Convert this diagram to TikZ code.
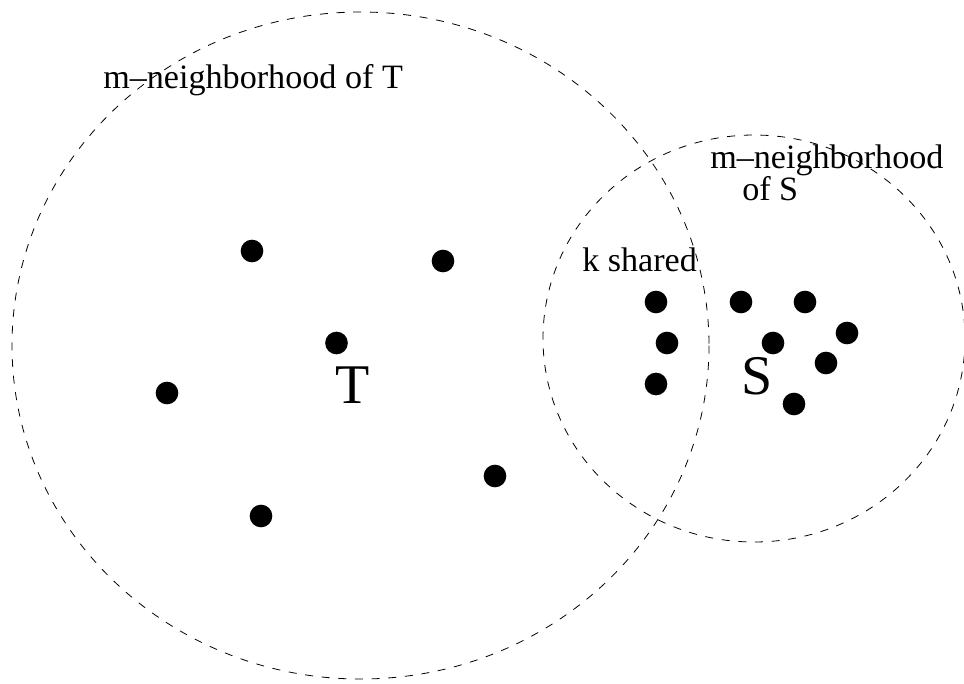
\documentclass[tikz,border=0pt]{standalone}
\usepackage{fontspec}
\setmainfont{Liberation Serif}
\begin{document}
\begin{tikzpicture}[x=0.75pt,y=-0.75pt,
  hood/.style={draw=black,line width=0.6pt,dash pattern=on 6pt off 6.5pt},
  dot/.style={circle,fill=black,inner sep=0pt,minimum size=17pt},
  lbl/.style={inner sep=0pt,anchor=base west,font=\fontsize{25.6}{28}\selectfont},
  big/.style={inner sep=0pt,anchor=base west,font=\fontsize{42}{44}\selectfont}]
\useasboundingbox (0,0) rectangle (964,683);
\draw[hood] (360.5,345.5) ellipse [x radius=348.5, y radius=333.5];
\draw[hood] (754,338.5) ellipse [x radius=211, y radius=203.5];
% dots of T
\node[dot] (t1) at (252,251) {};
\node[dot] (t2) at (443,261) {};
\node[dot] (t3) at (336.5,343) {};
\node[dot] (t4) at (167,393) {};
\node[dot] (t5) at (495,476) {};
\node[dot] (t6) at (261,516) {};
% shared dots
\node[dot] (k1) at (656,302) {};
\node[dot] (k2) at (667,343) {};
\node[dot] (k3) at (656,384) {};
% dots of S
\node[dot] (s1) at (741,302) {};
\node[dot] (s2) at (805,302) {};
\node[dot] (s3) at (773,343) {};
\node[dot] (s4) at (847,333) {};
\node[dot] (s5) at (826,363) {};
\node[dot] (s6) at (794,404) {};
% labels
\node[lbl] (lt) at (103,88) {m--neighborhood of T};
\node[lbl] (ls1) at (710,168) {m--neighborhood};
\node[lbl] (ls2) at (742,200) {of S};
\node[lbl] (lk) at (582,271) {k shared};
\node[big] (T) at (335,403) {T};
\node[big] (S) at (741,394) {S};
\end{tikzpicture}
\end{document}
